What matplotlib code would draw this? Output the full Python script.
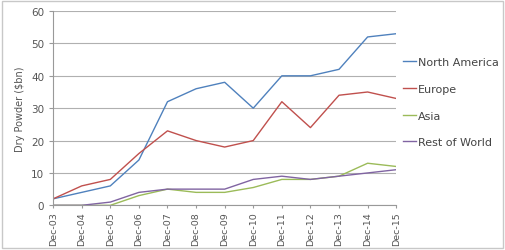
import matplotlib
matplotlib.use('Agg')
import matplotlib.pyplot as plt
from matplotlib.patches import Rectangle

months = ['Dec-03', 'Dec-04', 'Dec-05', 'Dec-06', 'Dec-07', 'Dec-08', 'Dec-09',
          'Dec-10', 'Dec-11', 'Dec-12', 'Dec-13', 'Dec-14', 'Dec-15']
north_america = [2, 4, 6, 14, 32, 36, 38, 30, 40, 40, 42, 52, 53]
europe = [2, 6, 8, 16, 23, 20, 18, 20, 32, 24, 34, 35, 33]
asia = [0, 0, 0, 3, 5, 4, 4, 5.5, 8, 8, 9, 13, 12]
rest_of_world = [0, 0, 1, 4, 5, 5, 5, 8, 9, 8, 9, 10, 11]

series = [('North America', north_america, '#4F81BD'),
          ('Europe', europe, '#C0504D'),
          ('Asia', asia, '#9BBB59'),
          ('Rest of World', rest_of_world, '#8064A2')]

plt.rcParams['font.family'] = ['DejaVu Sans']

fig = plt.figure(figsize=(5.06, 2.51), dpi=100)
ax = fig.add_axes([0.105, 0.178, 0.678, 0.774])

for name, vals, col in series:
    ax.plot(range(len(months)), vals, color=col, lw=1.0, label=name)

ax.set_xlim(0, len(months) - 1)
ax.set_ylim(0, 60)
ax.set_yticks(range(0, 61, 10))
ax.set_xticks(range(len(months)))
ax.set_xticklabels(months, rotation=90, fontsize=6.8, color='#555555')
ax.tick_params(axis='y', labelsize=7.5, labelcolor='#555555', length=3, color='#999999')
ax.tick_params(axis='x', length=2.5, pad=2, color='#999999')
ax.yaxis.grid(True, color='#b0b0b0', lw=0.8)
ax.set_axisbelow(True)
for s in ['top', 'right']:
    ax.spines[s].set_visible(False)
ax.spines['left'].set_color('#999999')
ax.spines['bottom'].set_color('#999999')
ax.set_ylabel('Dry Powder ($bn)', fontsize=7, color='#555555')

ax.legend(loc='center left', bbox_to_anchor=(0.99, 0.53), frameon=False,
          fontsize=8, handlelength=1.2, handletextpad=0.2, labelspacing=1.5,
          labelcolor='#444444')

fig.patches.append(Rectangle((0.003, 0.006), 0.992, 0.985, transform=fig.transFigure,
                             fill=False, edgecolor='#c8c8c8', lw=1))

fig.savefig('out.png', dpi=100)
